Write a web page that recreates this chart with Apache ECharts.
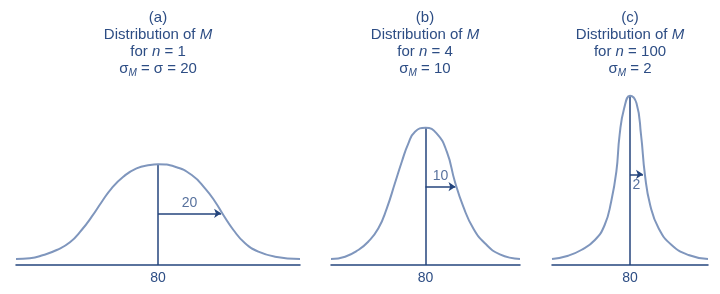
<!DOCTYPE html>
<html>
<head>
<meta charset="utf-8">
<script src="https://cdn.jsdelivr.net/npm/echarts@6/dist/echarts.min.js"></script>
<style>
html,body{margin:0;padding:0;background:#fff;}
#chart{width:720px;height:294px;}
</style>
</head>
<body>
<div id="chart"></div>
<script>
// Panel titles
const panelLetters = ['(a)', '(b)', '(c)'];
const panelN = ['1', '4', '100'];
const panelSigma = ['{t|σ}{s|M}{t| = σ = 20}', '{t|σ}{s|M}{t| = 10}', '{t|σ}{s|M}{t| = 2}'];
// Means and standard errors
const means = [80, 80, 80];
const sds = [20, 10, 2];
// Curve points (x = score, y = relative height)
const aX = [35, 39.4, 43.7, 47.9, 52.1, 55.8, 59, 62.2, 65.3, 69, 73.2, 77.5, 80, 85.4, 90.7, 94.9, 98.1, 100.7, 103.9, 107.6, 111.8, 117.1, 125];
const aY = [6, 6.7, 10, 15, 22.7, 35, 48.3, 63.3, 76.7, 88.3, 96.7, 100, 100.7, 98.3, 90, 76.7, 63.3, 50, 35, 21.7, 13.3, 8.3, 6];
const bX = [48.5, 53.2, 57.6, 60.9, 64.3, 67.1, 69.8, 72.1, 74.3, 76.5, 80, 83.7, 87.1, 89.8, 92.6, 95.9, 99.8, 104.8, 111.5];
const bY = [6, 8.3, 15, 23.3, 36.7, 56.7, 81.7, 103.3, 121.7, 133.3, 137.3, 131.7, 113.3, 83.3, 58.3, 36.7, 21.7, 10.7, 6];
const cX = [68, 70.5, 72.5, 74.6, 76.1, 77.1, 77.9, 78.4, 79.1, 80, 81, 81.7, 82.3, 83.1, 84.4, 86.4, 89, 92];
const cY = [6, 9.3, 15, 25, 40, 63.3, 93.3, 130, 156.7, 169.3, 161.7, 130, 90, 60, 36.7, 20, 10, 6];
// Arrow heights and label positions
const arrowY = [51.7, 78.3, 90.7];
const labelY = [61.7, 89, 80];
const tickLabels = ['80'];

const curvesX = [aX, bX, cX];
const curvesY = [aY, bY, cY];
const xRanges = [[35, 125], [48.5, 111.5], [68, 92]];

const FONT = 'Liberation Sans';
const TXT = '#2d4d84';
const DARK = '#24457d';
const CURVE = '#7f96bd';

const grids = [
  {left: 16, width: 284, top: 60, bottom: 29},
  {left: 331, width: 189, top: 60, bottom: 29},
  {left: 552, width: 156, top: 60, bottom: 29}
];

const xAxes = [], yAxes = [], series = [];
for (let i = 0; i < 3; i++) {
  xAxes.push({
    type: 'value', gridIndex: i, min: xRanges[i][0], max: xRanges[i][1],
    splitLine: {show: false}, axisTick: {show: false},
    axisLine: {show: true, lineStyle: {color: DARK, width: 1.5}},
    axisLabel: {
      customValues: tickLabels.map(Number), color: TXT, fontFamily: FONT, fontSize: 14, margin: 6,
      formatter: v => String(v)
    }
  });
  yAxes.push({type: 'value', gridIndex: i, min: 0, max: 205, show: false});
  const pk = Math.max(...curvesY[i]);
  series.push({
    type: 'line', xAxisIndex: i, yAxisIndex: i, smooth: 0.5, symbol: 'none',
    lineStyle: {color: CURVE, width: 2},
    data: curvesX[i].map((x, k) => [x, curvesY[i][k]])
  });
  series.push({
    type: 'lines', coordinateSystem: 'cartesian2d', xAxisIndex: i, yAxisIndex: i,
    symbol: ['none', 'none'],
    lineStyle: {color: DARK, width: 1.5, opacity: 1},
    data: [{coords: [[means[i], 0], [means[i], pk]]}]
  });
  series.push({
    type: 'lines', coordinateSystem: 'cartesian2d', xAxisIndex: i, yAxisIndex: i,
    symbol: ['none', 'arrow'], symbolSize: 7,
    lineStyle: {color: DARK, width: 1.5, opacity: 1},
    data: [{coords: [[means[i], arrowY[i]], [means[i] + sds[i], arrowY[i]]]}]
  });
  series.push({
    type: 'scatter', xAxisIndex: i, yAxisIndex: i, symbolSize: 0, silent: true,
    label: {show: true, position: 'inside', formatter: String(sds[i]), color: TXT, fontFamily: FONT, fontSize: 14},
    data: [[i === 2 ? means[i] + 1.0 : means[i] + sds[i] / 2, labelY[i]]]
  });
}

const centers = [158, 425, 630];
const graphic = [];
for (let i = 0; i < 3; i++) {
  const base = {fill: TXT, fontFamily: FONT, fontSize: 15, textAlign: 'center', textVerticalAlign: 'middle'};
  graphic.push({type: 'text', x: centers[i], y: 18, style: Object.assign({}, base, {text: panelLetters[i]})});
  graphic.push({type: 'text', x: centers[i], y: 35, style: Object.assign({}, base, {
    text: '{t|Distribution of }{i|M}',
    rich: {t: {fontFamily: FONT, fontSize: 15, fill: TXT}, i: {fontFamily: FONT, fontSize: 15, fontStyle: 'italic', fill: TXT}}
  })});
  graphic.push({type: 'text', x: centers[i], y: 52, style: Object.assign({}, base, {
    text: '{t|for }{i|n}{t| = ' + panelN[i] + '}',
    rich: {t: {fontFamily: FONT, fontSize: 15, fill: TXT}, i: {fontFamily: FONT, fontSize: 15, fontStyle: 'italic', fill: TXT}}
  })});
  graphic.push({type: 'text', x: centers[i], y: 69, style: Object.assign({}, base, {
    text: panelSigma[i],
    rich: {
      t: {fontFamily: FONT, fontSize: 15, fill: TXT, lineHeight: 18},
      s: {fontFamily: FONT, fontSize: 10, fontStyle: 'italic', fill: TXT, lineHeight: 18, verticalAlign: 'bottom', padding: [8, 0, 0, 0]}
    }
  })});
}

const chart = echarts.init(document.getElementById('chart'), null, {renderer: 'canvas'});
chart.setOption({
  animation: false,
  backgroundColor: '#fff',
  grid: grids,
  xAxis: xAxes,
  yAxis: yAxes,
  series: series,
  graphic: graphic
});
</script>
</body>
</html>
